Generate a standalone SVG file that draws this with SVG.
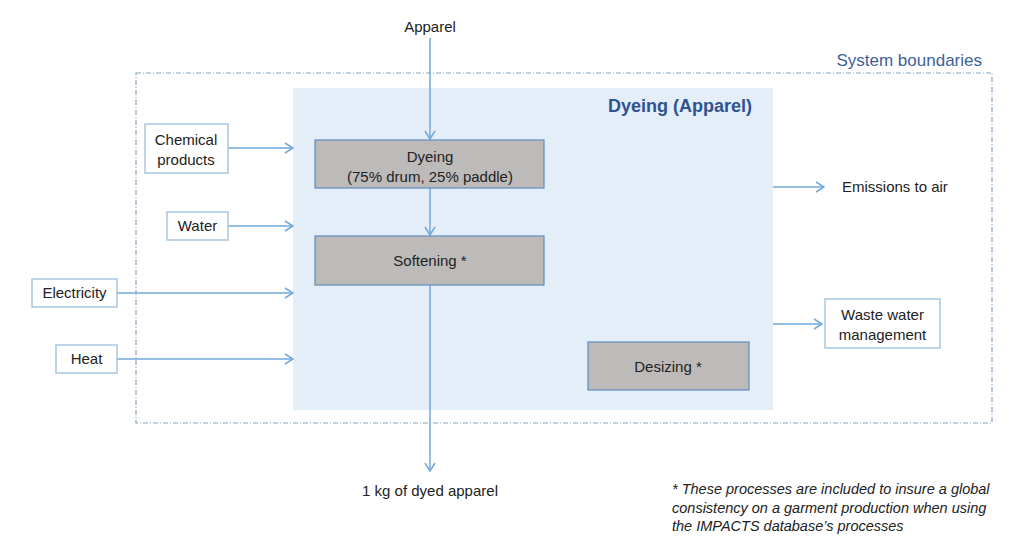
<svg xmlns="http://www.w3.org/2000/svg" width="1029" height="544" viewBox="0 0 1029 544">
<style>
text{font-family:"Liberation Sans",Arial,sans-serif;font-size:15px;fill:#222}
.c{text-anchor:middle}
.box{fill:#fff;stroke:#a9c6e3;stroke-width:1.5}
.proc{fill:#bdbaba;stroke:#5e8cbf;stroke-width:1.2}
.ln{stroke:#72a8d8;stroke-width:1.5;fill:none;marker-end:url(#ah)}
.foot{font-style:italic;font-size:14.5px}
</style>
<defs>
<marker id="ah" viewBox="0 0 10 12" refX="9" refY="6" markerWidth="10" markerHeight="12" markerUnits="userSpaceOnUse" orient="auto">
<path d="M1,1 L9,6 L1,11" fill="none" stroke="#72a8d8" stroke-width="1.5"/>
</marker>
</defs>
<g id="system-boundary">
<rect x="136" y="73" width="856" height="350" fill="none" stroke="#8aa6c2" stroke-width="1.2" stroke-dasharray="5,2,1,2"/>
<text x="982" y="66" text-anchor="end" style="font-size:17px;fill:#3d5f9b">System boundaries</text>
</g>
<g id="dyeing-apparel">
<rect x="293" y="88" width="480" height="322" fill="#e3eef9"/>
<text x="752" y="112" text-anchor="end" style="font-size:18px;font-weight:bold;fill:#2f5390">Dyeing (Apparel)</text>
</g>
<g id="connectors">
<line class="ln" x1="430" y1="38" x2="430" y2="139"/>
<line class="ln" x1="430" y1="188" x2="430" y2="235"/>
<line class="ln" x1="430" y1="285" x2="430" y2="471"/>
<line class="ln" x1="228" y1="148" x2="293" y2="148"/>
<line class="ln" x1="228" y1="226" x2="293" y2="226"/>
<line class="ln" x1="117" y1="293" x2="293" y2="293"/>
<line class="ln" x1="117" y1="359" x2="293" y2="359"/>
<line class="ln" x1="773" y1="187" x2="824" y2="187"/>
<line class="ln" x1="773" y1="324" x2="822" y2="324"/>
</g>
<g id="apparel"><text class="c" x="430" y="32">Apparel</text></g>
<g id="dyeing">
<rect class="proc" x="315" y="140" width="229" height="48"/>
<text class="c" x="430" y="162">Dyeing</text>
<text class="c" x="430" y="182">(75% drum, 25% paddle)</text>
</g>
<g id="softening">
<rect class="proc" x="315" y="236" width="229" height="49"/>
<text class="c" x="430" y="266">Softening *</text>
</g>
<g id="desizing">
<rect class="proc" x="588" y="342" width="161" height="48"/>
<text class="c" x="668" y="372">Desizing *</text>
</g>
<g id="chemical-products">
<rect class="box" x="145" y="124" width="83" height="49"/>
<text class="c" x="186" y="145">Chemical</text>
<text class="c" x="186" y="165">products</text>
</g>
<g id="water">
<rect class="box" x="167" y="212" width="61" height="28"/>
<text class="c" x="197.5" y="231">Water</text>
</g>
<g id="electricity">
<rect class="box" x="32" y="279" width="85" height="28"/>
<text class="c" x="74.5" y="298">Electricity</text>
</g>
<g id="heat">
<rect class="box" x="56" y="345" width="61" height="28"/>
<text class="c" x="86.5" y="364">Heat</text>
</g>
<g id="emissions"><text x="842" y="192">Emissions to air</text></g>
<g id="waste-water">
<rect class="box" x="825" y="299" width="115" height="49"/>
<text class="c" x="882.5" y="320">Waste water</text>
<text class="c" x="882.5" y="340">management</text>
</g>
<g id="output"><text class="c" x="430" y="496">1 kg of dyed apparel</text></g>
<g id="footnote">
<text class="foot" x="672" y="494">* These processes are included to insure a global</text>
<text class="foot" x="672" y="513">consistency on a garment production when using</text>
<text class="foot" x="672" y="531">the IMPACTS database’s processes</text>
</g>
</svg>
